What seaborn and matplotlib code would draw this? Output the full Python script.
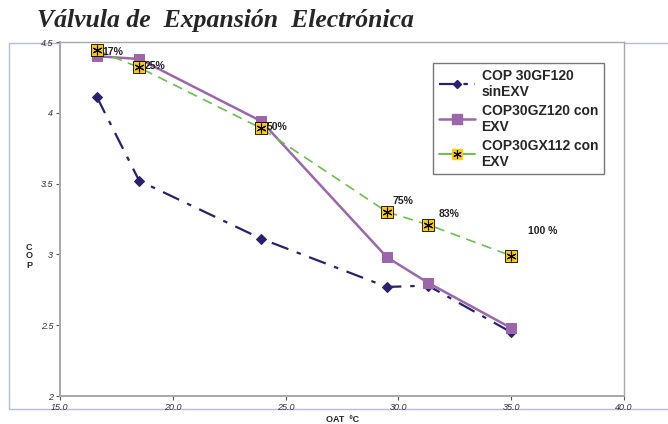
import numpy as np
import pandas as pd
import matplotlib
matplotlib.use("Agg")
import matplotlib.pyplot as plt
from matplotlib.patches import Rectangle
from matplotlib.lines import Line2D
import seaborn as sns

# OAT (ºC) and COP values
oat = [16.64, 18.51, 23.93, 29.49, 31.31, 35.0]
cop_gf120 = [4.11, 3.52, 3.11, 2.77, 2.78, 2.45]
cop_gz120 = [4.40, 4.38, 3.94, 2.98, 2.80, 2.48]
cop_gx112 = [4.44, 4.32, 3.89, 3.30, 3.21, 2.99]
carga = ["17%", "25%", "50%", "75%", "83%", "100 %"]

names = ["COP 30GF120\nsinEXV", "COP30GZ120 con\nEXV", "COP30GX112 con\nEXV"]

df = pd.DataFrame({
    "OAT": oat * 3,
    "COP": cop_gf120 + cop_gz120 + cop_gx112,
    "serie": [names[0]] * 6 + [names[1]] * 6 + [names[2]] * 6,
})

sns.set_style("white")
plt.rcParams["font.family"] = ["Liberation Sans", "DejaVu Sans"]

fig = plt.figure(figsize=(6.68, 4.24), dpi=100)
ax = fig.add_axes([60 / 668, 1 - 396 / 424, (624 - 60) / 668, (396 - 42) / 424])

navy = "#27216E"
purple = "#9B66AC"
green = "#6CBF4E"
yellow = "#FFCC00"

sns.lineplot(data=df[df.serie == names[0]], x="OAT", y="COP", ax=ax, color=navy,
             lw=1.6, marker="D", markersize=5, markeredgecolor=navy, legend=False)
ax.lines[-1].set_dashes([8, 4, 2, 4])
sns.lineplot(data=df[df.serie == names[1]], x="OAT", y="COP", ax=ax, color=purple,
             lw=1.8, marker="s", markersize=7, markeredgecolor=purple, legend=False)
sns.lineplot(data=df[df.serie == names[2]], x="OAT", y="COP", ax=ax, color=green,
             lw=1.2, marker="s", markersize=8, markerfacecolor=yellow,
             markeredgecolor="black", markeredgewidth=0.6, legend=False)
ax.lines[-1].set_dashes([6, 4])
ax.plot(oat, cop_gx112, ls="none", marker=(6, 2, 0), markersize=7,
        color="black", mew=0.8, zorder=5)

offs = [(4, -1), (4, 1), (4, 1), (4, 8), (8, 8), (12, 18)]
for xv, yv, t, (dx, dy) in zip(oat, cop_gx112, carga, offs):
    ax.annotate(t, (xv, yv), xytext=(dx, dy), textcoords="offset points",
                fontsize=7.5, fontweight="bold", color="#222222", va="center")

ax.set_xlim(15, 40)
ax.set_ylim(2, 4.5)
ax.set_xticks([15, 20, 25, 30, 35, 40])
ax.set_xticklabels(["15.0", "20.0", "25.0", "30.0", "35.0", "40.0"])
ax.set_yticks([2, 2.5, 3, 3.5, 4, 4.5])
ax.set_yticklabels(["2", "2.5", "3", "3.5", "4", "4.5"])
ax.tick_params(axis="both", labelsize=6.5, colors="#555555", length=3, width=0.8,
               direction="out", bottom=True, left=True, pad=2)
for lb in ax.get_xticklabels() + ax.get_yticklabels():
    lb.set_fontstyle("italic")
    lb.set_color("#333333")
for s in ax.spines.values():
    s.set_color("#A8A8A8")
    s.set_linewidth(1.0)
ax.spines["left"].set_linewidth(1.4)
ax.spines["bottom"].set_linewidth(1.4)
ax.set_xlabel("")
ax.set_ylabel("")

h1 = Line2D([], [], color=navy, lw=1.6, marker="D", markersize=4, dashes=[8, 3, 2, 3])
h2 = Line2D([], [], color=purple, lw=1.8, marker="s", markersize=7)
h3a = Line2D([], [], color=green, lw=1.4, marker="s", markersize=7,
             markerfacecolor=yellow, markeredgecolor=yellow)
h3b = Line2D([], [], ls="none", marker=(6, 2, 0), markersize=6, color="black", mew=0.8)
leg = ax.legend([h1, h2, (h3a, h3b)], names, loc="upper left",
                bbox_to_anchor=((433 - 60) / 564, 1 - (63 - 42) / 354),
                prop={"weight": "bold", "size": 10}, frameon=True, fancybox=False,
                edgecolor="#555555", handlelength=2.6, labelspacing=0.35,
                borderpad=0.4, handletextpad=0.5, borderaxespad=0)
leg.get_frame().set_linewidth(1.0)

# outer chart frame
fig.patches.append(Rectangle((9 / 668, 1 - 409 / 424), 700 / 668, (409 - 43) / 424,
                             transform=fig.transFigure, fill=False,
                             edgecolor="#B4BCDD", lw=1.0, zorder=-1))

fig.text(37 / 668, 1 - 20 / 424, "Válvula de  Expansión  Electrónica",
         family=["Liberation Serif", "DejaVu Serif"], fontsize=18.5,
         fontweight="heavy", fontstyle="italic", va="center", ha="left")
fig.text(29 / 668, 1 - 256 / 424, "C\nO\nP", fontsize=6.5, fontweight="bold",
         ha="center", va="center", linespacing=1.0)
fig.text(343 / 668, 1 - 419 / 424, "OAT  ºC", fontsize=6.5, fontweight="bold",
         ha="center", va="center")

fig.savefig("out.png", dpi=100)
